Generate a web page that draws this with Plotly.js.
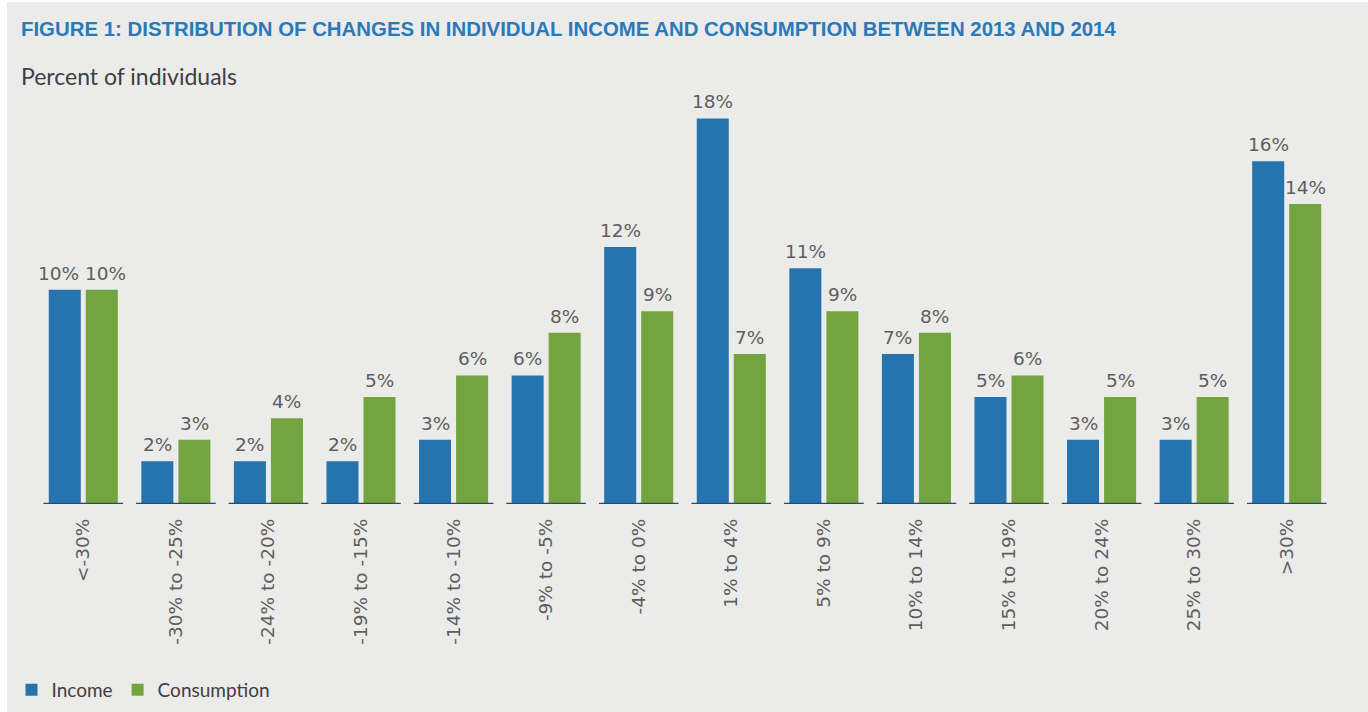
<!DOCTYPE html>
<html>
<head>
<meta charset="utf-8">
<script src="https://cdn.plot.ly/plotly-3.0.1.min.js"></script>
<style>
  html, body { margin: 0; padding: 0; background: #ffffff; }
  #wrap { position: absolute; left: 7px; top: 2px; width: 1361px; height: 710px; background: #ebebea; }
  #chart { width: 1361px; height: 710px; }
</style>
</head>
<body>
<div id="wrap"><div id="chart"></div></div>
<script>
const categories = ['<-30%', '-30% to -25%', '-24% to -20%', '-19% to -15%', '-14% to -10%', '-9% to -5%', '-4% to 0%', '1% to 4%', '5% to 9%', '10% to 14%', '15% to 19%', '20% to 24%', '25% to 30%', '>30%'];
const incomeValues = [10, 2, 2, 2, 3, 6, 12, 18, 11, 7, 5, 3, 3, 16];
const consumptionValues = [10, 3, 4, 5, 6, 8, 9, 7, 9, 8, 6, 5, 5, 14];
const seriesNames = ['Income', 'Consumption'];

const labelFont = { family: 'DejaVu Sans, Verdana, sans-serif', size: 18.5, color: '#5e5e5e' };
const tickFont = { family: 'DejaVu Sans, Verdana, sans-serif', size: 18.5, color: '#5e5e5e' };
const textFont = 'Lato, "Open Sans", sans-serif';

const traces = [
  { type: 'bar', name: seriesNames[0], x: categories, y: incomeValues,
    marker: { color: '#2574b0' }, hoverinfo: 'x+y' },
  { type: 'bar', name: seriesNames[1], x: categories, y: consumptionValues,
    marker: { color: '#74a43f' }, hoverinfo: 'x+y' }
];

const shapes = categories.map((c, i) => ({
  type: 'line', xref: 'x', yref: 'y', x0: i - 0.43, x1: i + 0.43, y0: 0, y1: 0,
  line: { color: '#1b4c7d', width: 2.5 }, layer: 'above'
}));

// value labels above bars (offset of grouped bar centres in category units)
const groupOffset = 0.2;
const valueLabels = [];
[incomeValues, consumptionValues].forEach((vals, s) => {
  vals.forEach((v, i) => {
    const same = incomeValues[i] === consumptionValues[i];
    valueLabels.push({
      x: i + (s === 0 ? -groupOffset : groupOffset), y: v, xref: 'x', yref: 'y',
      text: v + '%', showarrow: false, yanchor: 'bottom', xanchor: 'center', yshift: 4,
      xshift: same ? (s === 0 ? -6 : 4) : 0,
      font: labelFont
    });
  });
});

const layout = {
  width: 1361, height: 710,
  paper_bgcolor: '#ebebea', plot_bgcolor: '#ebebea',
  margin: { l: 30, r: 35, t: 95, b: 208, autoexpand: false },
  barmode: 'group', bargap: 0.2, bargroupgap: 0.135,
  showlegend: true,
  legend: { orientation: 'h', xref: 'container', yref: 'container', x: 0.0033, xanchor: 'left',
            y: 0.031, yanchor: 'middle',
            font: { family: textFont, size: 19, color: '#404040' }, bgcolor: 'rgba(0,0,0,0)',
            itemwidth: 30, traceorder: 'normal' },
  xaxis: { type: 'category', tickangle: -90, tickfont: tickFont, showgrid: false,
           zeroline: false, showline: false, ticks: '', automargin: false, ticklabelstandoff: 10,
           range: [-0.5, categories.length - 0.5] },
  yaxis: { range: [0, 19], visible: false, showgrid: false, zeroline: false, fixedrange: true },
  shapes: shapes,
  annotations: valueLabels.concat([
    { text: '<b>FIGURE 1: DISTRIBUTION OF CHANGES IN INDIVIDUAL INCOME AND CONSUMPTION BETWEEN 2013 AND 2014</b>',
      xref: 'paper', yref: 'paper', x: -0.0142, xanchor: 'left', y: 1, yshift: 68, yanchor: 'middle',
      showarrow: false, font: { family: '"Liberation Sans Narrow", "Arial Narrow", sans-serif', size: 20.4, color: '#2a7ab9' } },
    { text: 'Percent of individuals', xref: 'paper', yref: 'paper', x: -0.0142, xanchor: 'left',
      y: 1, yshift: 21, yanchor: 'middle', showarrow: false,
      font: { family: textFont, size: 23, color: '#404040' } }
  ])
};

Plotly.newPlot('chart', traces, layout, { displayModeBar: false });
</script>
</body>
</html>
